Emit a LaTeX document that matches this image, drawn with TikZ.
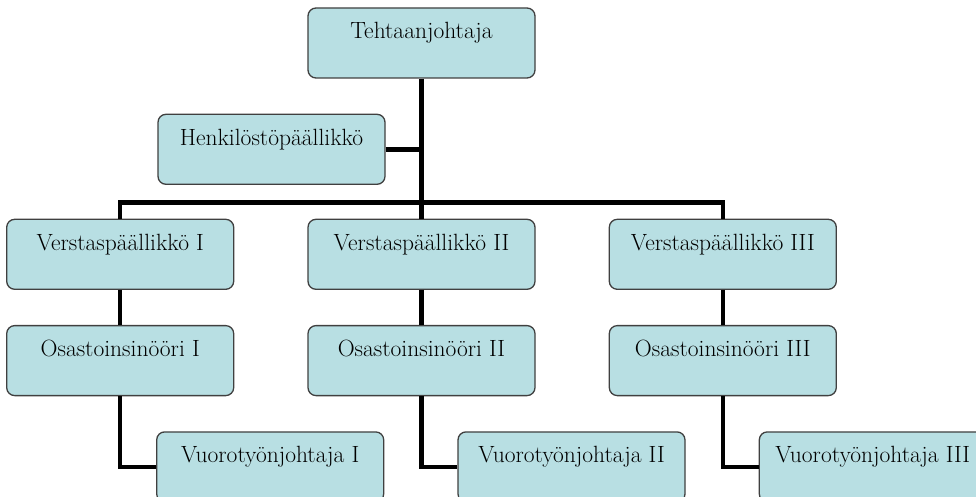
\documentclass[tikz,border=0pt]{standalone}
\usepackage{tikz}
\usetikzlibrary{positioning}
\definecolor{unitfill}{RGB}{184,223,227}
\definecolor{unitline}{RGB}{64,64,64}

\begin{document}
\begin{tikzpicture}[
						x=1pt, y=-1pt,
						node distance=35pt and 73pt,
						unit/.style = {draw=unitline, fill=unitfill, line width=1.3pt, rounded corners=8pt,
							minimum width=227pt, minimum height=70pt, inner ysep=4pt,
							text height=27pt, text depth=35pt, font=\fontsize{23.5pt}{28pt}\selectfont},
						link/.style = {line width=4.5pt, black}
					]
					\useasboundingbox (0,0) rectangle (976,497);
					\clip (0,0) rectangle (976,497);
					\node[unit] (t) at (421.5,43) {Tehtaanjohtaja};
					\node[unit,xshift=-150pt] (h) [below=of t] {Henkilöstöpäällikkö};
					\node[unit] (v2) [below=140pt of t] {Verstaspäällikkö II};
					\node[unit] (v1) [left=of v2] {Verstaspäällikkö I};
					\node[unit] (v3) [right=of v2] {Verstaspäällikkö III};
					\node[unit] (o1) [below=of v1] {Osastoinsinööri I};
					\node[unit] (o2) [below=of v2] {Osastoinsinööri II};
					\node[unit] (o3) [below=of v3] {Osastoinsinööri III};
					\node[unit,xshift=150pt] (w1) [below=of o1] {Vuorotyönjohtaja I};
					\node[unit,xshift=150pt] (w2) [below=of o2] {Vuorotyönjohtaja II};
					\node[unit,xshift=150pt] (w3) [below=of o3] {Vuorotyönjohtaja III};
					\coordinate[above=16pt of v2.north] (bar);
					\draw[link] (t) -- (v2);
					\draw[link] (h.east) -- (h.east -| t.south);
					\draw[link] (v1.north) |- (bar) -| (v3.north);
					\foreach \i in {1,2,3} {
						\draw[link] (v\i) -- (o\i);
						\draw[link] (o\i.south) |- (w\i.west);
					}
				\end{tikzpicture}
\end{document}
